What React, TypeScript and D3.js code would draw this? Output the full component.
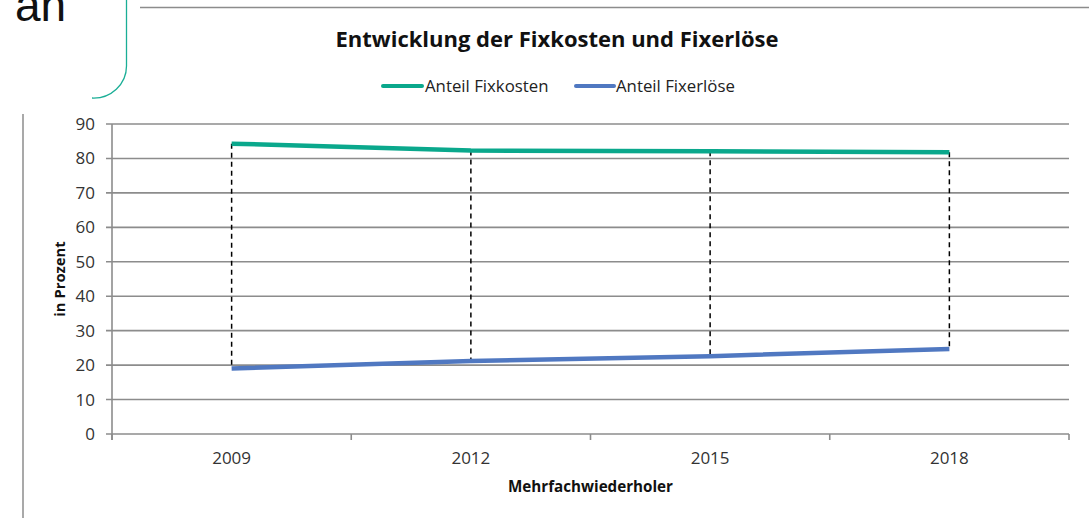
import React from "react";
import * as d3 from "d3";

// data
const years = ["2009", "2012", "2015", "2018"];
const fixkosten = [84.3, 82.3, 82.1, 81.8];
const fixerloese = [19.0, 21.2, 22.6, 24.7];
const yTicks = [0, 10, 20, 30, 40, 50, 60, 70, 80, 90];

const W = 1089, H = 518;
const left = 112, right = 1069, top = 124, bottom = 434;
const GREEN = "#0AA88C";
const BLUE = "#5078C1";
const GRID = "#8C8C8C";
const FONT = "'Open Sans', Lato, sans-serif";

export default function App() {
  const x = d3.scaleBand<string>().domain(years).range([left, right]);
  const y = d3.scaleLinear().domain([0, 90]).range([bottom, top]);
  const cx = (d: string) => (x(d) as number) + x.bandwidth() / 2;

  const line = d3.line<number>()
    .x((_, i) => cx(years[i]))
    .y((v) => y(v));

  const boundaries = years.map((d) => x(d) as number).concat([right]);

  return (
    <svg width={W} height={H} style={{ position: "absolute", left: 0, top: 0, display: "block", background: "#fff" }}>
      {/* decorative bits of the surrounding slide */}
      <text x={15} y={21} fontFamily="'Liberation Sans', Arial, sans-serif" fontSize={46} fill="#111">an</text>
      <path d="M126.5,0 V66 A33,32 0 0 1 92,98" fill="none" stroke="#1AAE96" strokeWidth={1.3} />
      <line x1={140} x2={W} y1={7.5} y2={7.5} stroke={GRID} strokeWidth={1.5} />
      <line x1={23} x2={23} y1={114} y2={H} stroke={GRID} strokeWidth={1.5} />

      {/* title */}
      <text x={557} y={47} textAnchor="middle" fontFamily={FONT} fontWeight="bold" fontSize={22} fill="#111">
        Entwicklung der Fixkosten und Fixerlöse
      </text>

      {/* legend */}
      <line x1={383} x2={422} y1={86} y2={86} stroke={GREEN} strokeWidth={4} strokeLinecap="round" />
      <text x={425} y={92} fontFamily={FONT} fontSize={16.8} fill="#222">Anteil Fixkosten</text>
      <line x1={576} x2={614} y1={86} y2={86} stroke={BLUE} strokeWidth={4} strokeLinecap="round" />
      <text x={616} y={92} fontFamily={FONT} fontSize={16.8} fill="#222">Anteil Fixerlöse</text>

      {/* gridlines + y ticks */}
      {yTicks.map((t) => (
        <g key={t}>
          <line x1={106} x2={right} y1={y(t)} y2={y(t)} stroke={GRID} strokeWidth={1.6} />
          <text x={95} y={y(t) + 6} textAnchor="end" fontFamily={FONT} fontSize={17} fill="#333">{t}</text>
        </g>
      ))}
      <line x1={left} x2={left} y1={top} y2={bottom + 6} stroke={GRID} strokeWidth={1.6} />
      {boundaries.map((b, i) => (
        <line key={i} x1={b} x2={b} y1={bottom} y2={bottom + 6} stroke={GRID} strokeWidth={1.6} />
      ))}

      {/* x labels */}
      {years.map((d) => (
        <text key={d} x={cx(d)} y={463.5} textAnchor="middle" fontFamily={FONT} fontSize={17} fill="#333">{d}</text>
      ))}

      {/* axis titles */}
      <text x={(left + right) / 2} y={492} textAnchor="middle" fontFamily={FONT} fontWeight="bold" fontSize={15.2} fill="#111">
        Mehrfachwiederholer
      </text>
      <text transform={`translate(65,${(top + bottom) / 2}) rotate(-90)`} textAnchor="middle" fontFamily={FONT} fontWeight="bold" fontSize={14.8} fill="#111">
        in Prozent
      </text>

      {/* high-low drop lines */}
      {years.map((d, i) => (
        <line key={d} x1={cx(d)} x2={cx(d)} y1={y(fixkosten[i])} y2={y(fixerloese[i])}
          stroke="#000" strokeWidth={1.5} strokeDasharray="5,4" />
      ))}

      {/* series */}
      <path d={line(fixkosten) || ""} fill="none" stroke={GREEN} strokeWidth={4.5} />
      <path d={line(fixerloese) || ""} fill="none" stroke={BLUE} strokeWidth={4.5} />
    </svg>
  );
}
